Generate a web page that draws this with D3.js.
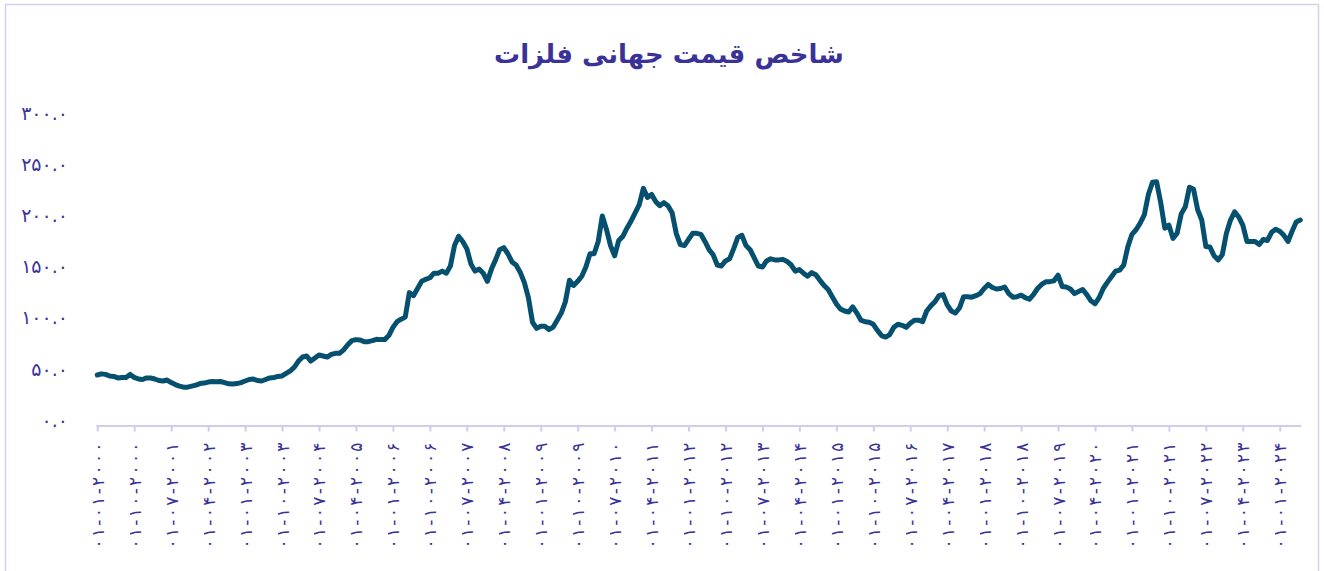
<!DOCTYPE html>
<html>
<head>
<meta charset="utf-8">
<script src="https://cdn.jsdelivr.net/npm/d3@7"></script>
<style>
  body { margin: 0; background: #fff; }
  svg text { font-family: "DejaVu Sans", sans-serif; }
</style>
</head>
<body>
<div id="container"></div>
<script>
/* CONSTANTS AND GLOBALS */
const width = 1324,
  height = 571,
  margin = {top: 118.8, bottom: 145.5, left: 97.3, right: 23.7};

const titleText = "شاخص قیمت جهانی فلزات";

// monthly, 2000-01 .. 2024-06
const startYear = 2000, startMonth = 0;
const values = [
  49.4, 50.5, 50, 48.4, 48, 46.5, 47, 47, 50, 47, 45.5, 45,
  46.5, 46.5, 45.5, 44, 43.5, 44.5, 42, 40, 38.5, 37.5, 37.5, 38.5,
  39.5, 41, 41.5, 42.5, 43, 42.8, 43, 42, 40.8, 40.6, 41, 42,
  43.5, 45, 45.5, 44, 43.5, 45, 46.5, 47, 48, 48.5, 51, 53.5,
  57, 63, 67, 68, 63, 66, 69, 68, 67, 69.5, 70.6, 70.6,
  74, 79, 83, 84, 83.6, 82, 82, 83, 84.3, 84, 84, 88,
  96, 101.5, 104, 106, 130, 127, 134, 141, 143, 144.5, 149, 149,
  151, 149, 156, 176, 185, 180, 173, 158, 151, 153, 149, 141,
  153, 162, 172, 174, 168, 160, 157, 150, 140, 125, 101, 95,
  97, 97, 94, 96, 103, 110, 121, 142, 137, 141, 146, 155,
  168, 168, 180, 205, 192, 176, 166, 181, 185, 193, 200, 208,
  216, 232, 223, 226, 219, 215, 218, 215, 208, 188, 177, 176,
  182, 188, 188, 187, 180, 172, 167, 157, 156, 161, 163, 173,
  184, 186, 176, 172, 164, 156, 155, 161, 163, 162, 162, 162.5,
  160.5, 157, 151, 152.5, 149, 146, 149.5, 147.5, 142, 137, 133, 126,
  119, 114, 112, 111, 116, 110, 103, 101.5, 101, 99, 93, 88,
  86.5, 89, 96, 99, 98, 96, 100, 103, 103, 101.5, 112, 117,
  121, 127, 128, 118, 112, 110, 115, 126, 126, 125.5, 127, 129,
  134, 138, 135, 133.5, 134, 135.5, 129, 125.5, 126, 127.5, 125, 123.5,
  128, 134, 138, 140.5, 140.7, 141.5, 147, 136, 135.5, 133.5, 129, 131,
  133, 128, 122, 119, 125, 134, 140, 145.5, 151, 152, 157, 175,
  187, 191.5, 198, 206, 226, 238, 238.5, 218, 193, 196, 183, 188,
  207, 214, 233, 231, 211, 201, 175, 174.5, 166, 162, 167, 188,
  201, 209, 204, 196, 180, 180, 180, 177, 182, 181, 189, 192,
  190, 186, 180, 190, 199, 201
];

const yTicks = [0, 50, 100, 150, 200, 250, 300];
const labelEvery = 9; // months between x labels

/* HELPERS */
const faDigits = "۰۱۲۳۴۵۶۷۸۹";
const toFa = s => String(s).replace(/[0-9]/g, d => faDigits[+d]);
const pad2 = n => (n < 10 ? "0" : "") + n;

// category names dd-mm-yyyy
const months = values.map((v, i) => {
  const m = startMonth + i;
  const yr = startYear + Math.floor(m / 12);
  return "01-" + pad2((m % 12) + 1) + "-" + yr;
});
const data = values.map((v, i) => ({month: months[i], value: v}));

/* SCALES */
const xScale = d3.scalePoint()
  .domain(months)
  .range([margin.left, width - margin.right]);

const yScale = d3.scaleLinear()
  .domain([0, 300])
  .range([height - margin.bottom, margin.top]);

/* HTML ELEMENTS */
const svg = d3.select("#container")
  .append("svg")
  .attr("width", width)
  .attr("height", height);

// outer frame
svg.append("rect")
  .attr("x", 5.5)
  .attr("y", 4.5)
  .attr("width", 1313)
  .attr("height", 570)
  .attr("fill", "none")
  .attr("stroke", "#d4d2f0")
  .attr("stroke-width", 1.5);

// title
svg.append("text")
  .attr("x", 669)
  .attr("y", 63)
  .attr("text-anchor", "middle")
  .attr("direction", "rtl")
  .style("font-size", "26px")
  .style("font-weight", "bold")
  .style("fill", "#3a3397")
  .text(titleText);

// y labels (no axis line)
svg.append("g")
  .selectAll("text")
  .data(yTicks)
  .join("text")
  .attr("x", 68)
  .attr("y", d => yScale(d) - 5.5)
  .attr("dy", "0.35em")
  .attr("text-anchor", "end")
  .style("font-size", "19px")
  .style("letter-spacing", "0.5px")
  .style("fill", "#3a3397")
  .text(d => toFa(d3.format(".1f")(d)));

// x axis
const xAxis = d3.axisBottom(xScale)
  .tickValues(months.filter((d, i) => i % labelEvery === 0))
  .tickSize(6)
  .tickSizeOuter(0)
  .tickFormat(d => toFa(d));

const xg = svg.append("g")
  .attr("transform", `translate(0, ${height - margin.bottom})`)
  .call(xAxis);

xg.select(".domain")
  .attr("stroke", "#cfcdef")
  .attr("stroke-width", 2)
  .attr("d", `M${margin.left - 1},0.5H${width - margin.right + 1}`);
xg.selectAll(".tick line")
  .attr("stroke", "#cfcdef")
  .attr("stroke-width", 2);
xg.selectAll(".tick text")
  .attr("transform", "rotate(-90)")
  .attr("text-anchor", "end")
  .attr("x", -17)
  .attr("y", 0)
  .attr("dy", "0.35em")
  .attr("direction", "ltr")
  .attr("textLength", 106)
  .attr("lengthAdjust", "spacing")
  .style("font-family", "DejaVu Sans, sans-serif")
  .style("font-size", "17px")
  .style("fill", "#3a3397");

// line
const line = d3.line()
  .x(d => xScale(d.month))
  .y(d => yScale(d.value))
  .curve(d3.curveLinear);

svg.append("path")
  .datum(data)
  .attr("fill", "none")
  .attr("stroke", "#06506f")
  .attr("stroke-width", 5)
  .attr("stroke-linejoin", "round")
  .attr("stroke-linecap", "round")
  .attr("d", line);
</script>
</body>
</html>
